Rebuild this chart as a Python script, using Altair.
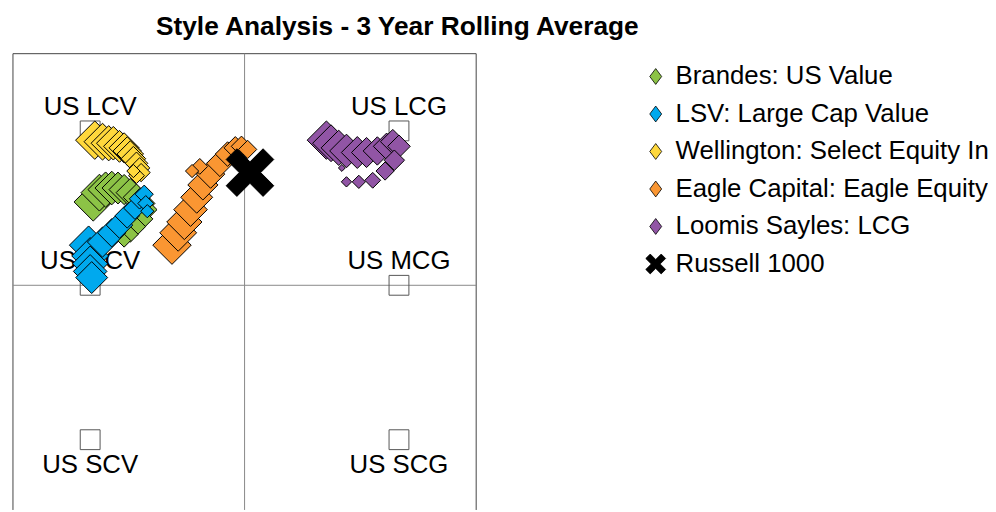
import altair as alt
import pandas as pd

# ---------------- data ----------------
series_names = [
    "Brandes: US Value",
    "LSV: Large Cap Value",
    "Wellington: Select Equity Income",
    "Eagle Capital: Eagle Equity",
    "Loomis Sayles: LCG",
    "Russell 1000",
]
series_colors = ["#8CC346", "#00A9EE", "#FFD83C", "#FA9632", "#9155A5", "#000000"]

# style coordinates (x: value -> growth, y: small -> large), newest window first
brandes_x = [-0.98, -0.94, -0.90, -0.86, -0.82, -0.78, -0.74, -0.70, -0.66, -0.64, -0.66, -0.70, -0.74, -0.78]
brandes_y = [0.54, 0.60, 0.62, 0.63, 0.63, 0.62, 0.60, 0.57, 0.53, 0.49, 0.43, 0.38, 0.33, 0.29]
lsv_x = [-1.01, -1.00, -1.00, -1.00, -0.99, -0.92, -0.86, -0.81, -0.76, -0.71, -0.68, -0.65, -0.64, -0.63]
lsv_y = [0.26, 0.19, 0.14, 0.09, 0.05, 0.28, 0.34, 0.39, 0.45, 0.50, 0.56, 0.59, 0.53, 0.48]
wellington_x = [-0.97, -0.92, -0.88, -0.85, -0.81, -0.78, -0.76, -0.74, -0.72, -0.70, -0.68, -0.67, -0.70, -0.72]
wellington_y = [0.94, 0.93, 0.92, 0.92, 0.90, 0.89, 0.87, 0.85, 0.82, 0.79, 0.76, 0.73, 0.71, 0.74]
eagle_x = [-0.47, -0.43, -0.39, -0.35, -0.31, -0.27, -0.22, -0.16, -0.11, -0.06, -0.02, 0.02, -0.29, -0.34]
eagle_y = [0.26, 0.34, 0.41, 0.49, 0.57, 0.65, 0.72, 0.79, 0.85, 0.89, 0.90, 0.88, 0.77, 0.74]
loomis_x = [0.53, 0.56, 0.61, 0.66, 0.73, 0.79, 0.86, 0.92, 0.96, 1.00, 0.97, 0.91, 0.83, 0.74, 0.66, 0.63]
loomis_y = [0.94, 0.92, 0.89, 0.87, 0.86, 0.86, 0.87, 0.90, 0.93, 0.90, 0.81, 0.74, 0.68, 0.67, 0.67, 0.76]
russell_x = [0.035]
russell_y = [0.73]

bench_names = ["US LCV", "US LCG", "US MCV", "US MCG", "US SCV", "US SCG"]
bench_x = [-1, 1, -1, 1, -1, 1]
bench_y = [1, 1, 0, 0, -1, -1]
bench_side = ["above", "above", "above", "above", "below", "below"]

title_text = "Style Analysis - 3 Year Rolling Average"
n_periods = 16

# ---------------- tables ----------------
rows = []
tracks = [
    (series_names[0], brandes_x, brandes_y),
    (series_names[1], lsv_x, lsv_y),
    (series_names[2], wellington_x, wellington_y),
    (series_names[3], eagle_x, eagle_y),
    (series_names[4], loomis_x, loomis_y),
]
draw = 0
for name, xs, ys in tracks:
    for i, (xv, yv) in enumerate(zip(xs, ys)):
        rows.append({"series": name, "x": xv, "y": yv, "period": n_periods - i, "draw": draw})
        draw += 1
mgr = pd.DataFrame(rows)
rus = pd.DataFrame({"series": [series_names[5]], "x": russell_x, "y": russell_y})
bench = pd.DataFrame({"name": bench_names, "x": bench_x, "y": bench_y, "side": bench_side})
leg = pd.DataFrame({"series": series_names, "x": [0.0] * 6, "y": [0.0] * 6})

XPATH = "M-0.55,-1L0,-0.45L0.55,-1L1,-0.55L0.45,0L1,0.55L0.55,1L0,0.45L-0.55,1L-1,0.55L-0.45,0L-1,-0.55Z"
XPATH_LEG = "M-0.69,-1.25L0,-0.56L0.69,-1.25L1.25,-0.69L0.56,0L1.25,0.69L0.69,1.25L0,0.56L-0.69,1.25L-1.25,0.69L-0.56,0L-1.25,-0.69Z"
NARROW = "M0,-1L0.75,0L0,1L-0.75,0Z"

xscale = alt.Scale(domain=[-1.5, 1.5], nice=False, zero=False)
yscale = alt.Scale(domain=[-1.455, 1.5], nice=False, zero=False)

FONT = "Liberation Sans"

base_x = alt.X("x:Q", scale=xscale, axis=None)
base_y = alt.Y("y:Q", scale=yscale, axis=None)

# frame and quadrant lines
frame_v = alt.Chart(pd.DataFrame({"x": [-1.5, 1.5]})).mark_rule(color="#444", strokeWidth=1).encode(x=base_x)
frame_h = alt.Chart(pd.DataFrame({"y": [1.5]})).mark_rule(color="#444", strokeWidth=1).encode(y=base_y)
mid_v = alt.Chart(pd.DataFrame({"x": [0]})).mark_rule(color="#888", strokeWidth=1).encode(x=base_x)
mid_h = alt.Chart(pd.DataFrame({"y": [0]})).mark_rule(color="#888", strokeWidth=1).encode(y=base_y)

bench_pts = alt.Chart(bench).mark_point(
    shape="square", filled=False, size=400, color="#555", strokeWidth=1, opacity=1
).encode(x=base_x, y=base_y)

lab_above = alt.Chart(bench).transform_filter("datum.side == 'above'").mark_text(
    font=FONT, fontSize=26, color="black", baseline="middle", align="center", dy=-24
).encode(x=base_x, y=base_y, text="name:N")
lab_below = alt.Chart(bench).transform_filter("datum.side == 'below'").mark_text(
    font=FONT, fontSize=26, color="black", baseline="middle", align="center", dy=26
).encode(x=base_x, y=base_y, text="name:N")

mgr_pts = alt.Chart(mgr).mark_point(filled=True, opacity=1, stroke="black", strokeWidth=1).encode(
    x=base_x,
    y=base_y,
    color=alt.Color("series:N", scale=alt.Scale(domain=series_names, range=series_colors), legend=None),
    shape=alt.Shape("series:N", scale=alt.Scale(domain=series_names, range=["diamond"] * 5 + [XPATH]), legend=None),
    size=alt.Size(
        "period:Q",
        scale=alt.Scale(type="pow", exponent=1.3, domain=[1, 16], range=[49, 1500], zero=False),
        legend=None,
    ),
    order=alt.Order("draw:Q"),
)

rus_pts = alt.Chart(rus).mark_point(filled=True, opacity=1, stroke="black", strokeWidth=1, size=2304).encode(
    x=base_x,
    y=base_y,
    color=alt.Color("series:N", scale=alt.Scale(domain=series_names, range=series_colors), legend=None),
    shape=alt.Shape("series:N", scale=alt.Scale(domain=series_names, range=["diamond"] * 5 + [XPATH]), legend=None),
)

legend = alt.Legend(
    orient="none",
    legendX=635,
    legendY=10,
    title=None,
    labelFont=FONT,
    labelFontSize=26,
    labelColor="black",
    labelLimit=1000,
    labelOffset=7,
    rowPadding=11.8,
    symbolSize=256,
    symbolStrokeWidth=0.8,
    symbolOpacity=1,
    padding=0,
)

# legend-only layer (no marks drawn: data filtered out, scale domain is explicit)
leg_layer = alt.Chart(leg).transform_filter("false").mark_point(
    filled=True, opacity=1, stroke="black", strokeWidth=0.8, size=256
).encode(
    x=base_x,
    y=base_y,
    color=alt.Color("series:N", scale=alt.Scale(domain=series_names, range=series_colors), legend=legend),
    shape=alt.Shape("series:N", scale=alt.Scale(domain=series_names, range=[NARROW] * 5 + [XPATH_LEG]), legend=legend),
)

chart = alt.layer(
    frame_v, frame_h, mid_v, mid_h, bench_pts, lab_above, lab_below, mgr_pts, rus_pts, leg_layer
).resolve_scale(
    color="independent", shape="independent"
).properties(
    width=467,
    height=460,
    autosize=alt.AutoSizeParams(type="none"),
    padding={"left": 5, "top": 44, "right": 516, "bottom": 0},
    title=alt.TitleParams(
        title_text, font=FONT, fontSize=26.5, fontWeight="bold", color="black",
        anchor="middle", frame="group", dx=154, dy=-9,
    ),
).configure_view(stroke=None)

chart.save("out.html", embed_options={"renderer": "svg", "actions": False})
